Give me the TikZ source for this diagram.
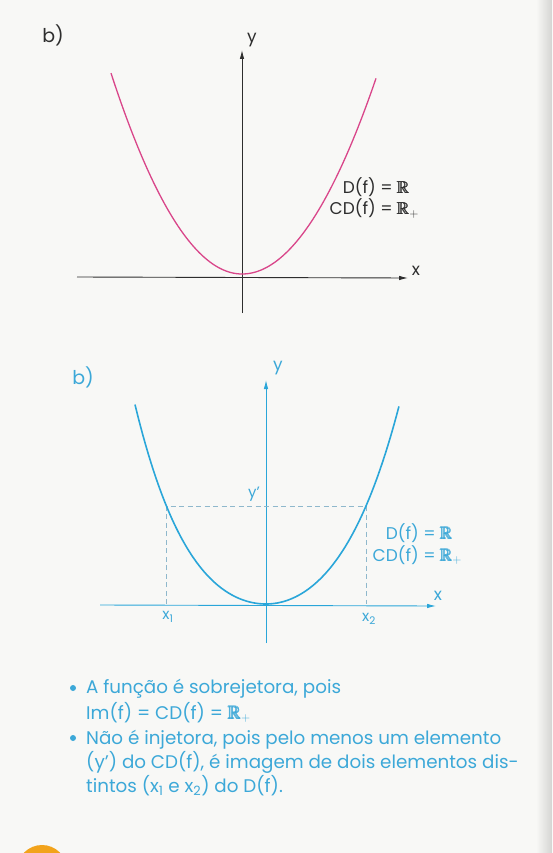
\documentclass[tikz,border=0pt]{standalone}
\usepackage{amsmath,amssymb}
\usepackage{fontspec}
\setmainfont{Poppins}
\usetikzlibrary{arrows.meta}
\definecolor{paper}{HTML}{F8F8F6}
\definecolor{pagefold}{HTML}{D4D4D2}
\definecolor{fuchsia}{HTML}{D9468A}
\definecolor{graphite}{HTML}{2E2E2E}
\definecolor{cerulean}{HTML}{2AA6D9}
\definecolor{skytext}{HTML}{3CA8D8}
\definecolor{dashgrey}{HTML}{8FB8CC}
\definecolor{tangerine}{HTML}{F2A31B}
\newcommand{\RR}{\pmb{\mathbb{R}}}

\begin{document}
\begin{tikzpicture}[x=1pt, y=-1pt,
    axistop/.style={line width=0.9pt, graphite, -{Latex[length=9pt,width=4.5pt]}},
    axisbot/.style={line width=0.9pt, cerulean, -{Latex[length=9pt,width=4.5pt]}},
    curvetop/.style={line width=1.3pt, fuchsia},
    curvebot/.style={line width=1.6pt, cerulean},
    guide/.style={line width=0.7pt, dashgrey, dash pattern=on 5pt off 3.5pt},
    lbltop/.style={graphite, font=\fontsize{17}{21}\selectfont},
    lblbot/.style={skytext, font=\fontsize{17}{22}\selectfont},
    bodytext/.style={skytext, anchor=base west, inner sep=0pt, font=\fontsize{18.3}{24}\selectfont}]
    % Page
    \useasboundingbox (0,0) rectangle (552,853);
    \clip (0,0) rectangle (552,853);
    \fill[paper] (0,0) rectangle (552,853);
    \shade[left color=paper, right color=pagefold] (536,0) rectangle (552,853);

    % ---- Top graph (black axes, magenta curve)
    \node[lbltop, font=\fontsize{19}{21}\selectfont] (btop) at (53,35) {b)};
    \coordinate (ytopfoot) at (242,313);
    \coordinate (ytoptip) at (242,50);
    \coordinate (xtopfoot) at (77,277);
    \coordinate (xtoptip) at (408,278);
    \draw[axistop] (ytopfoot) -- (ytoptip);
    \draw[axistop] (xtopfoot) -- (xtoptip);
    \node[lbltop] (ytop) at (252,40) {y};
    \node[lbltop] (xtop) at (416,271) {x};

    % parabola
    \draw[curvetop] plot[domain=-131:0, samples=50] ({242+\x},{274-0.0117*(\x)*(\x)});
    \draw[curvetop] plot[domain=0:134, samples=50] ({242+\x},{274-0.0109*(\x)*(\x)});

    % domain / codomain
    \node[lbltop, align=right, anchor=east] (domtop) at (413,198)
        {D(f) = $\RR$\\ CD(f) = $\RR\rlap{$_+$}$};

    % ---- Bottom graph (blue)
    \node[lblbot, font=\fontsize{19}{21}\selectfont] (bbot) at (83,377) {b)};
    \coordinate (ybotfoot) at (266,643);
    \coordinate (ybottip) at (266,380);
    \coordinate (xbotfoot) at (100,605);
    \coordinate (xbottip) at (436,606);
    \draw[axisbot] (ybotfoot) -- (ybottip);
    \draw[axisbot] (xbotfoot) -- (xbottip);
    \node[lblbot] (ybot) at (278,368) {y};
    \node[lblbot] (xbot) at (438,596) {x};

    % image y' of two points
    \coordinate (xone) at (166.5,604);
    \coordinate (xonetop) at (166.5,506);
    \coordinate (xtwo) at (366,604);
    \coordinate (xtwotop) at (366,506);
    \draw[guide] (xone) -- (xonetop) -- (xtwotop) -- (xtwo);

    % parabola
    \draw[curvebot] plot[domain=-1.31:0, samples=50] ({266+100*\x},{604-75*(\x)*(\x)-24*(\x)*(\x)*(\x)*(\x)});
    \draw[curvebot] plot[domain=0:1.33, samples=50] ({266+100*\x},{604-80*(\x)*(\x)-18*(\x)*(\x)*(\x)*(\x)});

    \node[lblbot, font=\fontsize{15}{18}\selectfont] (yprime) at (254,494) {y'};
    \node[lblbot, font=\fontsize{15}{18}\selectfont] (xonelbl) at (168,617) {x\textsubscript{1}};
    \node[lblbot, font=\fontsize{15}{18}\selectfont] (xtwolbl) at (369,619) {x\textsubscript{2}};

    \node[lblbot, align=right, anchor=east] (dombot) at (456,544)
        {D(f) = $\RR$\\ CD(f) = $\RR\rlap{$_+$}$};

    % ---- Conclusions
    \fill[skytext] (73,688) circle (3pt);
    \fill[skytext] (73,738) circle (3pt);
    \node[bodytext] (lineone) at (86,693) {A função é sobrejetora, pois};
    \node[bodytext] (linetwo) at (86,719) {Im(f) = CD(f) = $\RR_+$};
    \node[bodytext] (linethree) at (86,744) {Não é injetora, pois pelo menos um elemento};
    \node[bodytext] (linefour) at (86,768) {(y') do CD(f), é imagem de dois elementos dis-};
    \node[bodytext] (linefive) at (86,792) {tintos (x\textsubscript{1} e x\textsubscript{2}) do D(f).};

    % orange mark at the foot of the page
    \fill[tangerine] (42,870) circle (25pt);
\end{tikzpicture}
\end{document}
